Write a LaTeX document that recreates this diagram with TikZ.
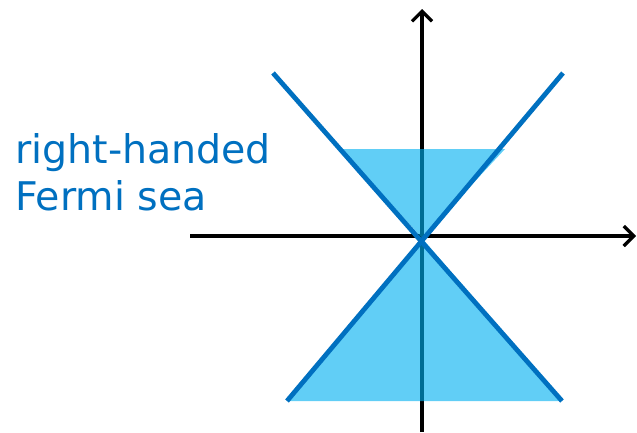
\documentclass[tikz,border=0pt]{standalone}
\usepackage{fontspec}
\setmainfont{DejaVu Sans}
\usetikzlibrary{arrows.meta}
\definecolor{coneblue}{RGB}{0,112,192}
\definecolor{seablue}{RGB}{0,176,240}
\tikzset{
  axis/.style={line width=3.2pt, -{Straight Barb[length=10pt,width=20pt,line width=3.2pt]}},
  cone/.style={line width=4.8pt, coneblue},
  sea/.style={fill=seablue, fill opacity=0.62},
  lbl/.style={anchor=base west, inner sep=0pt, text=coneblue, font=\fontsize{39.5}{46}\selectfont}
}
\begin{document}
\begin{tikzpicture}[x=1pt,y=-1pt]
\useasboundingbox (0,0) rectangle (637,432);
\coordinate (O) at (422,238);
\coordinate (xs) at (190,236);
\coordinate (xe) at (636,236);
\coordinate (ys) at (422,432);
\coordinate (ye) at (422,9);
\coordinate (tl) at (273,73);
\coordinate (tr) at (563,73);
\coordinate (bl) at (287,401);
\coordinate (br) at (562,401);
\coordinate (sl) at (341,149);
\coordinate (sr) at (505,149);
\draw[axis] (xs) -- (xe);
\draw[axis] (ys) -- (ye);
\fill[sea] (sl) -- (sr) -- (O) -- cycle;
\fill[sea] (O) -- (bl) -- (br) -- cycle;
\draw[cone] (tl) -- (br);
\draw[cone] (tr) -- (bl);
\node[lbl] (l1) at (15,163) {right-handed};
\node[lbl] (l2) at (15,210) {Fermi sea};
\end{tikzpicture}
\end{document}
